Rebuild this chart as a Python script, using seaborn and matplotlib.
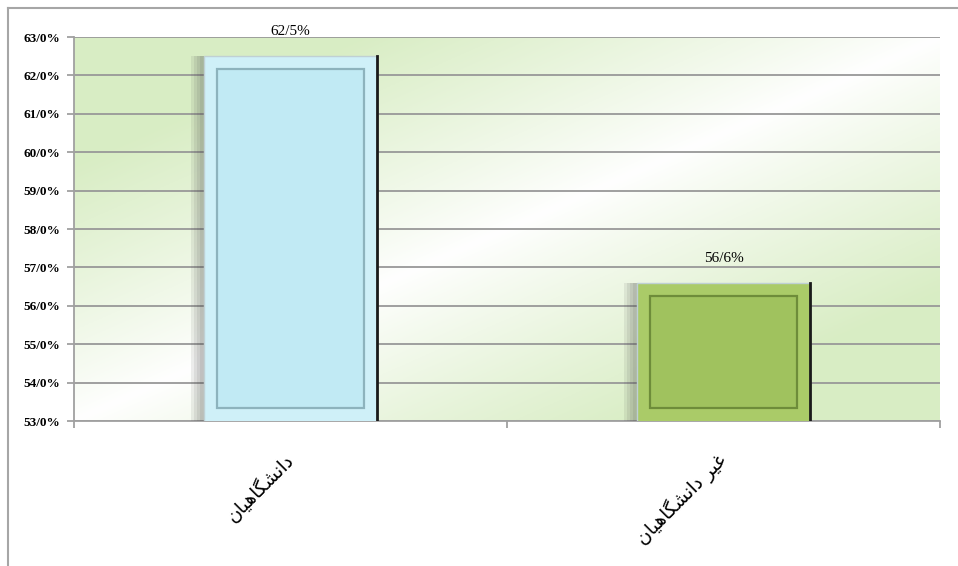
import numpy as np
import pandas as pd
import matplotlib
matplotlib.use("Agg")
import matplotlib.pyplot as plt
import matplotlib.patheffects as pe
from matplotlib.lines import Line2D
from matplotlib.patches import Rectangle
import seaborn as sns

# data
categories = ["دانشگاهیان", "غیر دانشگاهیان"]
values = [62.5, 56.6]
bar_colors = ["#C1EAF4", "#A0C25E"]
outer_colors = ["#CFF0F8", "#AACB68"]
inner_edges = ["#8DB3BD", "#6E8C3A"]
y_ticks = [53, 54, 55, 56, 57, 58, 59, 60, 61, 62, 63]

# minimal Arabic-script shaping (isolated, final, initial, medial) for display
FORMS = {
    "ا": ("\uFE8D", "\uFE8E", None, None),
    "د": ("\uFEA9", "\uFEAA", None, None),
    "ر": ("\uFEAD", "\uFEAE", None, None),
    "ن": ("\uFEE5", "\uFEE6", "\uFEE7", "\uFEE8"),
    "ش": ("\uFEB5", "\uFEB6", "\uFEB7", "\uFEB8"),
    "گ": ("\uFB92", "\uFB93", "\uFB94", "\uFB95"),
    "ه": ("\uFEE9", "\uFEEA", "\uFEEB", "\uFEEC"),
    "ی": ("\uFBFC", "\uFBFD", "\uFBFE", "\uFBFF"),
    "غ": ("\uFECD", "\uFECE", "\uFECF", "\uFED0"),
}


def shape(text):
    out = []
    for i, ch in enumerate(text):
        if ch not in FORMS:
            out.append(ch)
            continue
        prev = text[i - 1] if i > 0 else None
        nxt = text[i + 1] if i + 1 < len(text) else None
        dual = FORMS[ch][2] is not None
        j_prev = prev in FORMS and FORMS[prev][2] is not None
        j_next = dual and nxt in FORMS
        iso, fin, ini, med = FORMS[ch]
        if j_prev and j_next:
            out.append(med)
        elif j_prev:
            out.append(fin)
        elif j_next:
            out.append(ini)
        else:
            out.append(iso)
    return "".join(reversed(out))


def fmt(v, dec):
    return f"{v:.{dec}f}%".replace(".", "/")


df = pd.DataFrame({"group": categories, "value": values})

fig = plt.figure(figsize=(9.58, 5.66), dpi=100)
ax = fig.add_axes([74 / 958, 1 - 421 / 566, 866 / 958, 384 / 566])

# gradient background of the plot area
u, v = np.meshgrid(np.linspace(0, 1, 300), np.linspace(0, 1, 200))
t = np.clip(np.abs(u - v) * 1.5, 0, 1) ** 0.9
white = np.array([1.0, 1.0, 1.0])
green = np.array([0.85, 0.93, 0.77])
img = white * (1 - t[..., None]) + green * t[..., None]
ax.imshow(img, extent=[0, 1, 0, 1], transform=ax.transAxes, origin="lower",
          aspect="auto", zorder=0)

sns.barplot(data=df, x="group", y="value", hue="group", palette=outer_colors,
            width=0.4, legend=False, ax=ax, zorder=3, saturation=1,
            edgecolor="#BFD0D4", linewidth=1.0)

ax.set_ylim(53, 63)
ax.set_xlim(-0.5, 1.5)
ax.set_yticks(y_ticks)
ax.set_yticklabels([fmt(y, 1) for y in y_ticks], fontfamily="Liberation Serif",
                   fontweight="bold", fontsize=9.5)
ax.grid(axis="y", color="#989898", linewidth=1.3, zorder=1)
ax.set_axisbelow(True)
ax.set_xlabel("")
ax.set_ylabel("")

shadow = [pe.SimplePatchShadow(offset=(-o, 0), shadow_rgbFace="#404040", alpha=0.09)
          for o in (9, 7, 5, 3)]
for i, bar in enumerate(ax.patches):
    bar.set_path_effects(shadow + [pe.Normal()])
    x0, w = bar.get_x(), bar.get_width()
    top = bar.get_height()
    dx, dy = 0.03, 0.34
    ax.add_patch(Rectangle((x0 + dx, 53 + dy), w - 2 * dx, top - 53 - 2 * dy,
                           facecolor=bar_colors[i], edgecolor=inner_edges[i],
                           linewidth=1.6, zorder=4))
    ax.plot([x0 + w, x0 + w], [53, top], color="#1a1a1a", linewidth=2, zorder=5)
    ax.annotate(fmt(values[i], 1), (x0 + w / 2, top), xytext=(0, 13),
                textcoords="offset points", ha="center", va="bottom",
                fontfamily="Liberation Serif", fontsize=11, zorder=6)

ax.set_xticks(range(len(categories)))
ax.set_xticklabels([shape(c) for c in categories], rotation=45, ha="right",
                   va="center", rotation_mode="anchor", fontfamily="DejaVu Sans",
                   fontsize=13.5)
ax.tick_params(axis="x", length=0, pad=26)
ax.set_xticks([-0.5, 0.5, 1.5], minor=True)
ax.tick_params(axis="x", which="minor", length=5, color="#A0A0A0", width=1.3)
ax.tick_params(axis="y", length=5, color="#A0A0A0", width=1.3, pad=5)

for side in ["top", "right"]:
    ax.spines[side].set_visible(False)
for side in ["left", "bottom"]:
    ax.spines[side].set_color("#A0A0A0")
    ax.spines[side].set_linewidth(1.3)

# chart frame visible at top and left
fig.add_artist(Line2D([8 / 958, 1], [1 - 8 / 566, 1 - 8 / 566], color="#A6A6A6",
                      linewidth=1.5, transform=fig.transFigure))
fig.add_artist(Line2D([8 / 958, 8 / 958], [0, 1 - 8 / 566], color="#A6A6A6",
                      linewidth=1.5, transform=fig.transFigure))

fig.savefig("out.png", dpi=100)
